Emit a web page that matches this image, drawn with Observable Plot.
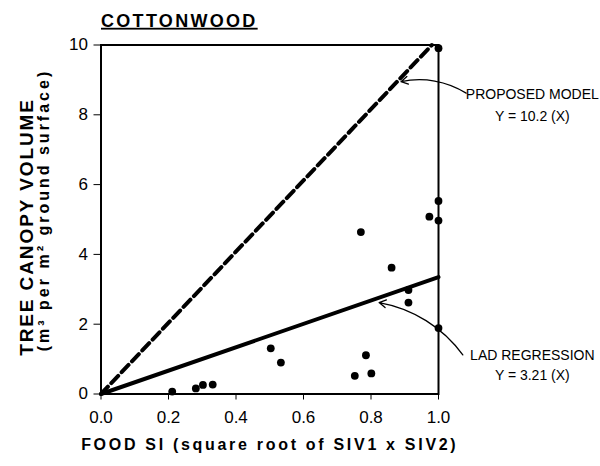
<!DOCTYPE html>
<html><head><meta charset="utf-8">
<script src="https://cdn.jsdelivr.net/npm/d3@7"></script>
<script src="https://cdn.jsdelivr.net/npm/@observablehq/plot@0.6"></script>
<style>body{margin:0;background:#fff}</style>
</head><body><div id="chart"></div>
<script>
// Data
const foodSI       = [0.211, 0.281, 0.302, 0.331, 0.503, 0.533, 0.752, 0.770, 0.785, 0.801, 0.861, 0.911, 0.911, 0.973, 1.0, 1.0, 1.0, 1.0];
const canopyVolume = [0.07, 0.16, 0.26, 0.27, 1.31, 0.90, 0.52, 4.64, 1.11, 0.59, 3.62, 2.98, 2.62, 5.08, 9.91, 5.53, 4.97, 1.89];
const xTicks = [0, 0.2, 0.4, 0.6, 0.8, 1.0];
const yTicks = [0, 2, 4, 6, 8, 10];
const proposedSlope = 10.2;   // Y = 10.2 (X)
const ladSlope = 3.35;        // drawn LAD line (labelled Y = 3.21 (X))
const annotLabels = ["PROPOSED MODEL", "Y = 10.2 (X)", "LAD REGRESSION", "Y = 3.21 (X)"];
const annotX = [1.278, 1.278, 1.278, 1.278];
const annotY = [8.57, 7.94, 1.09, 0.52];
const arrowFromX = [1.082, 1.072];
const arrowFromY = [8.62, 1.12];
const arrowToX = [0.889, 0.824];
const arrowToY = [8.95, 2.62];

const points = foodSI.map((x, i) => ({x, y: canopyVolume[i]}));
const proposedLine = [0, 10 / proposedSlope].map(x => ({x, y: proposedSlope * x}));
const ladLine = [0, 1].map(x => ({x, y: ladSlope * x}));
const annots = annotLabels.map((t, i) => ({t, x: annotX[i], y: annotY[i]}));
const arrows = arrowFromX.map((_, i) => ({x1: arrowFromX[i], y1: arrowFromY[i], x2: arrowToX[i], y2: arrowToY[i]}));

const font = "'Liberation Sans', Arial, sans-serif";
const chart = Plot.plot({
  width: 600, height: 466,
  marginLeft: 100.5, marginRight: 162, marginTop: 44.5, marginBottom: 72.5,
  style: {fontFamily: font, fontSize: "17px", background: "#fff", color: "#000", overflow: "visible"},
  x: {domain: [0, 1], ticks: xTicks, tickFormat: d3.format(".1f"), tickSize: 6, tickPadding: 11, label: null},
  y: {domain: [0, 10], ticks: yTicks, tickFormat: d => d, tickSize: 7, tickPadding: 6, label: null},
  marks: [
    Plot.frame({stroke: "#000", strokeWidth: 2}),
    Plot.line(proposedLine, {x: "x", y: "y", stroke: "#000", strokeWidth: 4, strokeDasharray: "10,5"}),
    Plot.line(ladLine, {x: "x", y: "y", stroke: "#000", strokeWidth: 4}),
    Plot.dot(points, {x: "x", y: "y", r: 3.9, fill: "#000"}),
    Plot.arrow(arrows, {x1: "x1", y1: "y1", x2: "x2", y2: "y2", bend: -22, stroke: "#000", strokeWidth: 1.3, headLength: 9}),
    Plot.text(annots, {x: "x", y: "y", text: "t", fontSize: 14, textAnchor: "middle"}),
    Plot.text(["COTTONWOOD"], {frameAnchor: "top-left", dx: 0, dy: -31, text: d => d, fontSize: 18, fontWeight: "bold", textAnchor: "start"}),
    Plot.text(["FOOD SI (square root of SIV1 x SIV2)"], {frameAnchor: "bottom", dy: 56, text: d => d, fontSize: 16, fontWeight: "bold", textAnchor: "middle"}),
    Plot.text(["TREE CANOPY VOLUME"], {frameAnchor: "left", dx: -74, dy: 7.5, rotate: -90, text: d => d, fontSize: 19, fontWeight: "bold", textAnchor: "middle"}),
    Plot.text(["(m³ per m² ground surface)"], {frameAnchor: "left", dx: -57, dy: -9.5, rotate: -90, text: d => d, fontSize: 16, fontWeight: "bold", textAnchor: "middle"})
  ]
});
d3.select(chart).selectAll("text").each(function() {
  const t = this.textContent;
  if (t === "COTTONWOOD") d3.select(this).attr("text-decoration", "underline").attr("letter-spacing", "2.3px");
  if (t.startsWith("FOOD SI")) d3.select(this).attr("letter-spacing", "2.7px");
  if (t === "TREE CANOPY VOLUME") d3.select(this).attr("letter-spacing", "1.9px");
  if (t.startsWith("(m")) d3.select(this).attr("letter-spacing", "3px");
});
document.getElementById("chart").append(chart);
</script>
</body></html>
